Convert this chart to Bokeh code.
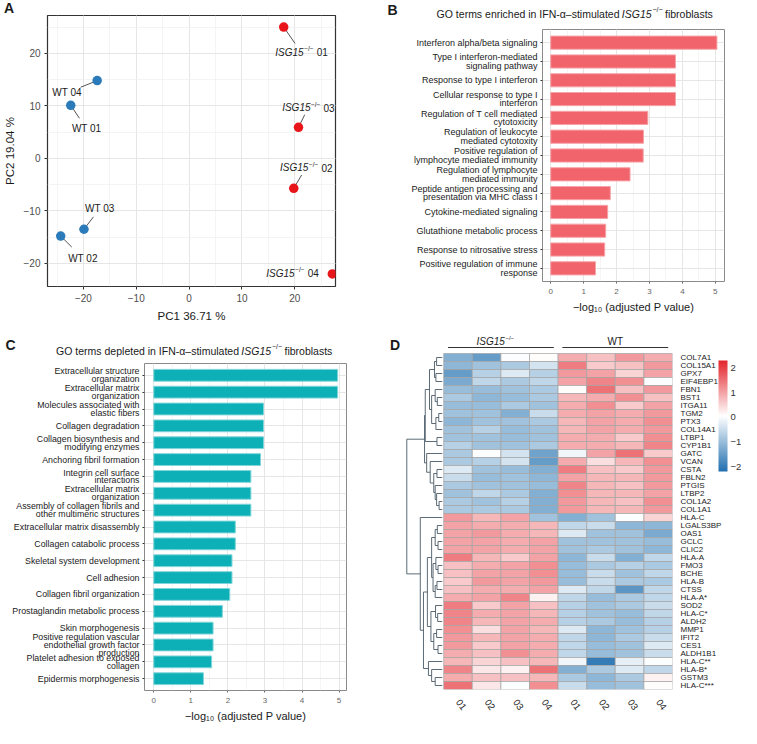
import math
from bokeh.plotting import figure
from bokeh.models import (Range1d, FactorRange, SingleIntervalTicker, FixedTicker,
                          LinearColorMapper, ColorBar, ColumnDataSource)
from bokeh.layouts import row, column
from bokeh.core.properties import value
from bokeh.transform import transform
from bokeh.embed import file_html
from bokeh.resources import INLINE

FONT = "Liberation Sans"
DARK = "#1a1a1a"
TICK_GRAY = "#4d4d4d"

# ---------------- Panel A: PCA ----------------
pca_group = ["WT", "WT", "WT", "WT", "ISG15", "ISG15", "ISG15", "ISG15"]
pca_rep = ["01", "02", "03", "04", "01", "02", "03", "04"]
pc1 = [-22.4, -24.3, -19.9, -17.4, 17.9, 19.8, 20.7, 27.1]
pc2 = [10.1, -14.8, -13.5, 14.8, 25.0, -5.7, 5.9, -22.0]
pca_label_dx = [3.0, 4.2, 3.0, -5.7, 3.3, 2.3, 1.8, -7.6]
pca_label_dy = [-4.5, -4.2, 3.95, -2.3, -4.8, 3.9, 3.7, 0.1]
pca_leader = [0.55, 0.5, 0.6, 0.55, 0.65, 0.65, 0.65, 0.0]
group_colors = {"WT": "#2B7BBA", "ISG15": "#E8161B"}

# ---------------- Panel B: enriched GO terms ----------------
go_enriched = [
    "Interferon alpha/beta signaling",
    "Type I interferon-mediated\nsignaling pathway",
    "Response to type I interferon",
    "Cellular response to type I\ninterferon",
    "Regulation of T cell mediated\ncytotoxicity",
    "Regulation of leukocyte\nmediated cytotoxity",
    "Positive regulation of\nlymphocyte mediated immunity",
    "Regulation of lymphocyte\nmediated immunity",
    "Peptide antigen processing and\npresentation via MHC class I",
    "Cytokine-mediated signaling",
    "Glutathione metabolic process",
    "Response to nitrosative stress",
    "Positive regulation of immune\nresponse",
]
go_enriched_vals = [5.05, 3.79, 3.79, 3.79, 2.95, 2.82, 2.81, 2.41, 1.81, 1.73, 1.67, 1.64, 1.36]

# ---------------- Panel C: depleted GO terms ----------------
go_depleted = [
    "Extracellular structure\norganization",
    "Extracellular matrix\norganization",
    "Molecules associated with\nelastic fibers",
    "Collagen degradation",
    "Collagen biosynthesis and\nmodifying enzymes",
    "Anchoring fibril formation",
    "Integrin cell surface\ninteractions",
    "Extracellular matrix\norganization\u200b",
    "Assembly of collagen fibrils and\nother multimeric structures",
    "Extracellular matrix disassembly",
    "Collagen catabolic process",
    "Skeletal system development",
    "Cell adhesion",
    "Collagen fibril organization",
    "Prostaglandin metabolic process",
    "Skin morphogenesis",
    "Positive regulation vascular\nendothelial growth factor\nproduction",
    "Platelet adhesion to exposed\ncollagen",
    "Epidermis morphogenesis",
]
go_depleted_vals = [4.96, 4.96, 2.96, 2.96, 2.96, 2.88, 2.62, 2.62, 2.62, 2.2, 2.2,
                    2.11, 2.11, 2.05, 1.85, 1.6, 1.6, 1.56, 1.34]

# ---------------- Panel D: heatmap ----------------
heat_samples = ["01", "02", "03", "04", "01", "02", "03", "04"]
heat_groups = ["ISG15", "ISG15", "ISG15", "ISG15", "WT", "WT", "WT", "WT"]
genes = ["COL7A1", "COL15A1", "GPX7", "EIF4EBP1", "FBN1", "BST1", "ITGA11", "TGM2", "PTX3",
         "COL14A1", "LTBP1", "CYP1B1", "GATC", "VCAN", "CSTA", "FBLN2", "PTGIS", "LTBP2",
         "COL1A2", "COL1A1", "HLA-C", "LGALS3BP", "OAS1", "GCLC", "CLIC2", "HLA-A", "FMO3",
         "BCHE", "HLA-B", "CTSS", "HLA-A*", "SOD2", "HLA-C*", "ALDH2", "MMP1", "IFIT2", "CES1",
         "ALDH1B1", "HLA-C**", "HLA-B*", "GSTM3", "HLA-C***"]
heat_values = [
    [-1.2, -1.5, 0.0, 0.1, 0.9, 0.7, 1.1, 0.9],
    [-1.1, -0.9, -0.8, -0.4, 1.4, 0.6, 0.7, 1.1],
    [-1.5, -0.7, -0.3, -0.7, 1.1, 1.0, 0.5, 1.0],
    [-1.3, -0.6, -0.8, -0.6, 1.0, 1.3, 1.2, 0.0],
    [-1.0, -1.0, -0.9, -0.8, 0.1, 1.5, 0.7, 1.1],
    [-0.8, -1.1, -1.0, -0.8, 0.8, 0.9, 1.2, 0.7],
    [-1.0, -1.0, -0.8, -0.9, 0.9, 1.2, 0.6, 1.0],
    [-0.9, -0.9, -1.2, -0.5, 0.9, 1.0, 0.9, 1.1],
    [-1.1, -0.9, -0.9, -0.8, 0.8, 1.0, 0.9, 1.2],
    [-0.9, -0.7, -1.0, -0.9, 0.8, 1.0, 0.9, 1.1],
    [-0.9, -0.9, -1.0, -0.9, 0.9, 0.9, 0.6, 1.2],
    [-0.7, -0.9, -0.9, -0.8, 0.9, 0.9, 0.8, 1.3],
    [-0.8, 0.0, -0.4, -1.4, -0.1, 1.0, 1.5, 0.6],
    [-0.8, -0.7, -0.4, -1.5, 0.9, 0.4, 0.8, 1.2],
    [-0.3, -0.9, -1.0, -1.2, 1.4, 0.7, 0.6, 1.1],
    [-0.5, -1.0, -0.9, -1.1, 1.0, 0.8, 0.8, 1.1],
    [-0.8, -0.9, -0.9, -1.0, 1.3, 0.8, 0.7, 1.1],
    [-0.9, -0.6, -0.8, -1.2, 1.2, 0.8, 0.8, 1.0],
    [-0.8, -0.9, -0.7, -1.2, 1.1, 0.8, 0.7, 1.2],
    [-0.8, -0.8, -0.8, -1.2, 1.1, 0.8, 0.8, 1.1],
    [1.1, 0.8, 1.0, -0.9, -1.2, -0.9, 0.0, 0.5],
    [1.0, 0.9, 0.9, 0.8, -0.6, -0.5, -1.1, -1.1],
    [1.0, 1.1, 0.9, 0.8, -0.3, -0.9, -0.9, -1.3],
    [1.0, 1.0, 0.9, 1.0, -0.9, -0.9, -0.9, -1.0],
    [1.0, 1.0, 0.9, 1.0, -0.9, -0.8, -0.9, -1.1],
    [1.4, 0.8, 0.6, 1.0, -1.1, -0.5, -1.2, -0.6],
    [0.7, 0.9, 1.0, 1.2, -1.0, -0.8, -0.7, -0.8],
    [0.7, 1.0, 1.0, 1.2, -1.0, -0.5, -0.9, -0.6],
    [0.6, 1.1, 1.0, 1.1, -1.0, -0.5, -0.8, -0.8],
    [0.7, 0.9, 0.9, 1.0, -0.3, -0.6, -1.6, -0.6],
    [0.9, 1.0, 1.3, 0.2, -0.6, -1.0, -0.8, -0.6],
    [1.4, 0.6, 1.0, 0.7, -0.7, -0.9, -0.8, -0.5],
    [1.3, 0.9, 1.0, 0.8, -0.7, -0.9, -1.0, -0.6],
    [1.3, 0.8, 1.0, 0.9, -0.7, -0.8, -1.0, -0.7],
    [1.2, 0.4, 1.0, 0.8, -0.3, -1.1, -0.9, -0.7],
    [1.1, 0.8, 1.0, 0.9, -0.6, -1.1, -0.8, -0.5],
    [1.1, 0.6, 1.0, 0.9, -0.6, -1.0, -0.9, -0.3],
    [0.9, 0.7, 1.2, 0.9, -0.6, -1.0, -0.9, -0.5],
    [0.8, 0.5, 0.7, 0.8, -0.1, -2.0, -0.2, 0.0],
    [1.3, 0.3, 0.2, 1.5, -1.2, -0.8, -0.3, -0.6],
    [0.9, 0.7, 0.7, 0.8, -0.8, -1.1, -0.8, 0.2],
    [1.5, 0.3, 0.0, 1.2, -0.5, -1.0, -0.9, 0.1],
]
# row dendrogram: (height, left, right), leaves are row indices (top to bottom)
row_tree = (10.0,
            (5.0,
             (4.8,
              (3.6,
               (2.2, (1.6, 0, 1), (1.8, 2, 3)),
               (3.0, (2.0, 4, (1.4, 5, 6)), (1.8, (1.0, 7, 8), 9))),
              (1.5, 10, 11)),
             (4.4, 12, (3.4, 13, (2.4, (1.5, 14, 15), (2.0, 16, (1.6, 17, (0.9, 18, 19))))))),
            (6.2, 20,
             (5.3,
              (4.2,
               (3.0,
                (2.0, (1.4, 21, 22), (1.2, 23, 24)),
                (2.6, (1.8, 25, (1.2, 26, 27)), (2.0, (1.5, 28, 29), 30))),
               (3.2,
                (1.9, 31, (1.3, 32, 33)),
                (2.4, (1.6, 34, 35), (1.2, 36, 37)))),
              (3.9, 38, (3.0, 39, (2.0, 40, 41))))))
colorbar_ticks = [-2, -1, 0, 1, 2]


def no_align(f):
    if "frame_align" in f.properties():
        f.frame_align = False
    return f


def text_strip(width, height):
    f = figure(width=width, height=height, x_range=Range1d(0, width), y_range=Range1d(0, height),
               x_axis_location=None, y_axis_location=None, output_backend="svg",
               toolbar_location=None, min_border=0, min_border_left=0, min_border_right=0,
               min_border_top=0, min_border_bottom=0)
    f.outline_line_color = None
    f.grid.visible = False
    return no_align(f)


def put_text(f, x, y, text, size="10.5px", style="normal", align="left", baseline="middle"):
    f.text(x=[x], y=[y], text=[text], text_font=value(FONT), text_font_size=size,
           text_font_style=style, text_align=align, text_baseline=baseline, text_color=DARK)


def style_linear_axis(ax, size="10px", color=TICK_GRAY):
    ax.axis_line_color = None
    ax.major_tick_in = 0
    ax.major_tick_out = 3
    ax.major_tick_line_color = "#333333"
    ax.minor_tick_line_color = None
    ax.major_label_text_font = FONT
    ax.major_label_text_font_size = size
    ax.major_label_text_color = color
    ax.major_label_standoff = 3
    ax.axis_label_text_font = FONT
    ax.axis_label_text_font_style = "normal"
    ax.axis_label_text_color = DARK


# ================= Panel A =================
hdr_a = text_strip(352, 15)
put_text(hdr_a, 8.5, 7.5, "A", size="14px", style="bold", align="center")

pa = figure(width=352, height=315, x_range=Range1d(-26.8, 27.7), y_range=Range1d(-24.4, 27.2),
            output_backend="svg", toolbar_location=None,
            min_border_left=43, min_border_right=17, min_border_top=0, min_border_bottom=44)
no_align(pa)
pa.outline_line_color = "#333333"
pa.outline_line_width = 1.2
for ax, grid, lab in ((pa.xaxis[0], pa.xgrid[0], "PC1 36.71 %"), (pa.yaxis[0], pa.ygrid[0], "PC2 19.04 %")):
    tk = SingleIntervalTicker(interval=10, num_minor_ticks=2)
    ax.ticker = tk
    grid.ticker = tk
    grid.grid_line_color = "#E6E6E6"
    grid.minor_grid_line_color = "#EFEFEF"
    grid.minor_grid_line_width = 0.7
    style_linear_axis(ax)
    ax.axis_label = lab
    ax.axis_label_text_font_size = "11.5px"
    ax.axis_label_standoff = 5
    ax.major_label_overrides = {-20: "\u221220", -10: "\u221210"}

lead_x0, lead_y0, lead_x1, lead_y1 = [], [], [], []
for x, y, dx, dy, f in zip(pc1, pc2, pca_label_dx, pca_label_dy, pca_leader):
    if f > 0:
        lead_x0.append(x); lead_y0.append(y)
        lead_x1.append(x + f * dx); lead_y1.append(y + f * dy)
pa.segment(x0=lead_x0, y0=lead_y0, x1=lead_x1, y1=lead_y1, line_color="#555555", line_width=1)
pa.scatter(x=pc1, y=pc2, size=9.5, fill_color=[group_colors[g] for g in pca_group],
           line_color=None)

lab_x = [x + dx for x, dx in zip(pc1, pca_label_dx)]
lab_y = [y + dy for y, dy in zip(pc2, pca_label_dy)]
wt_idx = [i for i, g in enumerate(pca_group) if g == "WT"]
ko_idx = [i for i, g in enumerate(pca_group) if g != "WT"]
pa.text(x=[lab_x[i] for i in wt_idx], y=[lab_y[i] for i in wt_idx],
        text=["WT " + pca_rep[i] for i in wt_idx], text_font=value(FONT), text_font_size="10px",
        text_align="center", text_baseline="middle", text_color=DARK)
ko_src = ColumnDataSource(dict(x=[lab_x[i] for i in ko_idx], y=[lab_y[i] for i in ko_idx],
                               gene=[pca_group[i] for i in ko_idx],
                               num=[pca_rep[i] for i in ko_idx]))
pa.text(x="x", y="y", text="gene", source=ko_src, text_font=value(FONT), text_font_size="10px",
        text_font_style="italic", text_align="right", text_baseline="middle", x_offset=2.5,
        text_color=DARK)
pa.text(x="x", y="y", text=value("\u2212/\u2212"), source=ko_src, text_font=value(FONT),
        text_font_size="6.5px", text_align="left", text_baseline="middle", x_offset=3.0,
        y_offset=-3.5, text_color=DARK)
pa.text(x="x", y="y", text="num", source=ko_src, text_font=value(FONT), text_font_size="10px",
        text_align="left", text_baseline="middle", x_offset=15.5, text_color=DARK)


# ================= Panels B and C =================
def bar_panel(cats, vals, color, outline, width, height, borders, xmax, label_size, line_h):
    left, right, top, bottom = borders
    p = figure(width=width, height=height,
               y_range=FactorRange(factors=cats[::-1], range_padding=0.2,
                                   range_padding_units="absolute"),
               x_range=Range1d(-0.25, xmax), output_backend="svg", toolbar_location=None,
               min_border_left=left, min_border_right=right, min_border_top=top,
               min_border_bottom=bottom)
    no_align(p)
    p.hbar(y=cats, right=vals, left=0, height=0.7, fill_color=color, line_color=outline,
           line_width=1)
    p.outline_line_color = "#8A8A8A"
    p.outline_line_width = 1
    tk = SingleIntervalTicker(interval=1, num_minor_ticks=2)
    p.xaxis.ticker = tk
    p.xgrid.ticker = tk
    p.xgrid.grid_line_color = "#E6E6E6"
    p.xgrid.minor_grid_line_color = "#F0F0F0"
    p.xgrid.minor_grid_line_width = 0.7
    p.ygrid.grid_line_color = "#E6E6E6"
    xa = p.xaxis[0]
    style_linear_axis(xa, size="8px", color="#666666")
    xa.major_tick_out = 2
    xa.major_tick_line_color = "#666666"
    xa.axis_label = "\u2212log\u2081\u2080 (adjusted P value)"
    xa.axis_label_text_font_size = "11px"
    xa.axis_label_standoff = 4
    ya = p.yaxis[0]
    ya.axis_line_color = None
    ya.major_tick_in = 0
    ya.major_tick_out = 2
    ya.major_tick_line_color = "#333333"
    ya.major_label_text_font = FONT
    ya.major_label_text_font_size = label_size
    ya.major_label_text_color = DARK
    ya.major_label_text_line_height = line_h
    ya.major_label_standoff = 3
    return p


def title_strip(width, height, word, right_x, y, letter, lx, ly):
    f = text_strip(width, height)
    put_text(f, right_x, y, "GO terms " + word + " in IFN-\u03b1\u2013stimulated", align="right")
    put_text(f, right_x + 2.3, y, "ISG15", style="italic")
    put_text(f, right_x + 33.0, y + 4, "\u2212/\u2212", size="7px")
    put_text(f, right_x + 45.5, y, "fibroblasts")
    put_text(f, lx, ly, letter, size="14px", style="bold", align="center")
    return f


hdr_b = title_strip(389, 25, "enriched", 267, 12, "B", 40, 16)
pb = bar_panel(go_enriched, go_enriched_vals, "#F1646C", "#F7A3A7", 389, 305,
               (190, 17, 4, 49), 5.28, "9px", 0.85)
hdr_c = title_strip(352, 30, "depleted", 238.5, 9.7, "C", 10, 16)
pc = bar_panel(go_depleted, go_depleted_vals, "#0DB0B7", "#7FD5D9", 352, 368,
               (144, 6, 3, 38), 5.2, "8.8px", 0.78)

# ================= Panel D =================
n_rows = len(genes)
n_cols = len(heat_samples)
pd_ = figure(width=389, height=398, x_range=Range1d(-2.64, 7.5), y_range=Range1d(-0.5, 43.875),
             output_backend="svg", toolbar_location=None, y_axis_location="right",
             min_border_left=30, min_border_right=69, min_border_top=4, min_border_bottom=39)
no_align(pd_)
pd_.outline_line_color = None
pd_.grid.visible = False


def lerp_hex(c1, c2, t):
    a = [int(c1[i:i + 2], 16) for i in (1, 3, 5)]
    b = [int(c2[i:i + 2], 16) for i in (1, 3, 5)]
    return "#%02x%02x%02x" % tuple(round(a[k] + (b[k] - a[k]) * t) for k in range(3))


palette = [lerp_hex("#2270B0", "#FFFFFF", i / 127) for i in range(128)] + \
          [lerp_hex("#FFFFFF", "#E3242B", i / 127) for i in range(128)]
mapper = LinearColorMapper(palette=palette, low=-2.2, high=2.3)

cx, cy, cz = [], [], []
for r, vals in enumerate(heat_values):
    for c, v in enumerate(vals):
        cx.append(c)
        cy.append(n_rows - 1 - r)
        cz.append(v)
hsrc = ColumnDataSource(dict(x=cx, y=cy, z=cz))
pd_.rect(x="x", y="y", width=1, height=1, source=hsrc, fill_color=transform("z", mapper),
         line_color="#A3A3A3", line_width=0.7)

seg = dict(x0=[], y0=[], x1=[], y1=[])


def hx(h):
    return -0.55 - h * 0.124


def walk(node):
    if isinstance(node, int):
        return n_rows - 1 - node, 0.0
    h, l, r = node
    yl, hl = walk(l)
    yr, hr = walk(r)
    for (a0, b0, a1, b1) in ((hx(hl), yl, hx(h), yl), (hx(hr), yr, hx(h), yr), (hx(h), yl, hx(h), yr)):
        seg["x0"].append(a0); seg["y0"].append(b0); seg["x1"].append(a1); seg["y1"].append(b1)
    return (yl + yr) / 2, h


walk(row_tree)
pd_.segment(x0="x0", y0="y0", x1="x1", y1="y1", source=ColumnDataSource(seg),
            line_color="#4A5A66", line_width=0.9)

groups_order = []
for g in heat_groups:
    if g not in groups_order:
        groups_order.append(g)
hdr = dict(x0=[], x1=[], xc=[])
for g in groups_order:
    idx = [i for i, gg in enumerate(heat_groups) if gg == g]
    hdr["x0"].append(min(idx) - 0.35)
    hdr["x1"].append(max(idx) + 0.35)
    hdr["xc"].append((min(idx) + max(idx)) / 2)
line_y = n_rows - 0.5 + 0.75
text_y = n_rows - 0.5 + 1.45
pd_.segment(x0=hdr["x0"], x1=hdr["x1"], y0=line_y, y1=line_y, line_color="#333333", line_width=1)
pd_.text(x=[hdr["xc"][0]], y=[text_y], text=[groups_order[0]], text_font=value(FONT),
         text_font_size="10px", text_font_style="italic", text_align="right",
         text_baseline="middle", x_offset=4, text_color=DARK)
pd_.text(x=[hdr["xc"][0]], y=[text_y], text=["\u2212/\u2212"], text_font=value(FONT),
         text_font_size="6px", text_align="left", text_baseline="middle", x_offset=4.5,
         y_offset=-3.5, text_color=DARK)
pd_.text(x=hdr["xc"][1:], y=[text_y] * (len(groups_order) - 1), text=groups_order[1:],
         text_font=value(FONT), text_font_size="10px", text_align="center",
         text_baseline="middle", text_color=DARK)
pd_.text(x=[-2.2], y=[n_rows - 0.5 + 1.06], text=["D"], text_font=value(FONT),
         text_font_size="14px", text_font_style="bold", text_align="center",
         text_baseline="middle", text_color=DARK)

ya = pd_.yaxis[0]
ya.ticker = FixedTicker(ticks=list(range(n_rows)))
ya.major_label_overrides = {n_rows - 1 - i: g for i, g in enumerate(genes)}
ya.axis_line_color = None
ya.major_tick_line_color = None
ya.minor_tick_line_color = None
ya.major_label_standoff = 2
ya.major_label_text_font = FONT
ya.major_label_text_font_size = "8px"
ya.major_label_text_color = DARK

xa = pd_.xaxis[0]
xa.ticker = FixedTicker(ticks=list(range(n_cols)))
xa.major_label_overrides = {i: s for i, s in enumerate(heat_samples)}
xa.axis_line_color = None
xa.major_tick_line_color = None
xa.minor_tick_line_color = None
xa.major_label_standoff = 5
xa.major_label_orientation = -0.95
xa.major_label_text_font = FONT
xa.major_label_text_font_size = "9.5px"
xa.major_label_text_color = DARK

cb = ColorBar(color_mapper=mapper, ticker=FixedTicker(ticks=colorbar_ticks), width=9, height=111,
              location=(336, 218), padding=0, label_standoff=3,
              major_label_text_font=FONT, major_label_text_font_size="9.5px",
              major_label_text_color="#333333", major_tick_line_color=None, bar_line_color=None,
              background_fill_alpha=0, border_line_color=None,
              major_label_overrides={-2: "\u22122", -1: "\u22121"})
pd_.add_layout(cb)

layout = column(row(column(row(hdr_a), pa), column(row(hdr_b), pb)),
                row(column(row(hdr_c), pc), pd_))
open("out.html", "w").write(file_html(layout, INLINE))
